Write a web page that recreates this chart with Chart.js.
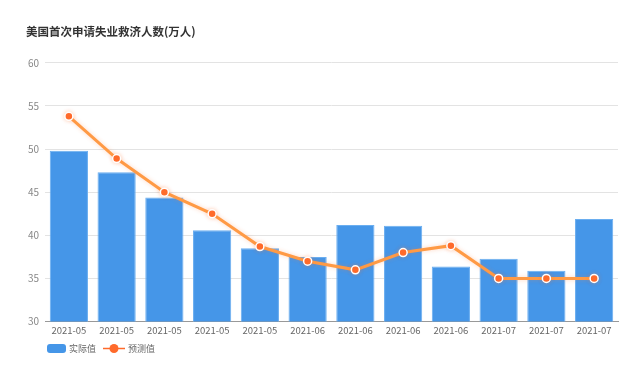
<!DOCTYPE html>
<html>
<head>
<meta charset="utf-8">
<script src="https://cdn.jsdelivr.net/npm/chart.js@4/dist/chart.umd.min.js"></script>
<style>
  html, body { margin: 0; padding: 0; background: #fff; }
  #wrap { width: 640px; height: 369px; }
</style>
</head>
<body>
<div id="wrap"><canvas id="chart" width="640" height="369"></canvas></div>
<script>
// data
const labels = ['2021-05', '2021-05', '2021-05', '2021-05', '2021-05', '2021-06',
                '2021-06', '2021-06', '2021-06', '2021-07', '2021-07', '2021-07'];
const actual = [49.8, 47.3, 44.4, 40.6, 38.5, 37.5, 41.2, 41.1, 36.4, 37.3, 35.9, 41.9];
const forecast = [53.8, 48.9, 45.0, 42.5, 38.7, 37.0, 36.0, 38.0, 38.8, 35.0, 35.0, 35.0];

const barColor = '#4596e8';
const lineColor = '#ff9a45';
const dotColor = '#ff6a2b';
const FONT = "'Noto Sans CJK SC', 'Noto Sans', sans-serif";

// faint orange glow on the forecast line
const lineGlow = {
    id: 'lineGlow',
    beforeDatasetDraw(chart, args) {
        if (args.index !== 0) return;
        const ctx = chart.ctx;
        ctx.save();
        ctx.shadowColor = 'rgba(255, 120, 50, 0.3)';
        ctx.shadowBlur = 4;
    },
    afterDatasetDraw(chart, args) {
        if (args.index !== 0) return;
        chart.ctx.restore();
    }
};

// legend drawn by hand under the axis (bar box, then line + dot)
const bottomLegend = {
    id: 'bottomLegend',
    afterDraw(chart) {
        const ctx = chart.ctx;
        const y = 348.5;
        ctx.save();
        ctx.font = '9px ' + FONT;
        ctx.textBaseline = 'middle';

        ctx.beginPath();
        ctx.fillStyle = barColor;
        ctx.roundRect(47, y - 4.5, 19, 9, 3);
        ctx.fill();
        ctx.fillStyle = '#666';
        ctx.fillText(chart.data.datasets[1].label, 69, y);

        ctx.strokeStyle = dotColor;
        ctx.lineWidth = 1.5;
        ctx.beginPath();
        ctx.moveTo(103, y); ctx.lineTo(125, y);
        ctx.stroke();
        ctx.fillStyle = dotColor;
        ctx.beginPath();
        ctx.arc(114, y, 4.5, 0, Math.PI * 2);
        ctx.fill();
        ctx.fillStyle = '#666';
        ctx.fillText(chart.data.datasets[0].label, 128, y);
        ctx.restore();
    }
};

new Chart(document.getElementById('chart'), {
    data: {
        labels: labels,
        datasets: [
            {
                type: 'line',
                label: '预测值',
                data: forecast,
                borderColor: lineColor,
                borderWidth: 3,
                tension: 0,
                pointRadius: 4,
                pointBackgroundColor: dotColor,
                pointBorderColor: '#fff',
                pointBorderWidth: 1.5,
                order: 0
            },
            {
                type: 'bar',
                label: '实际值',
                data: actual,
                backgroundColor: barColor,
                borderColor: '#6aaef0',
                borderWidth: 1,
                categoryPercentage: 1,
                barPercentage: 0.8,
                order: 1
            }
        ]
    },
    options: {
        responsive: false,
        animation: false,
        layout: { padding: { left: 26, right: 22, top: 0, bottom: 30 } },
        plugins: {
            tooltip: { enabled: false },
            legend: { display: false },
            title: {
                display: true,
                text: '美国首次申请失业救济人数(万人)',
                align: 'start',
                color: '#333',
                font: { family: FONT, size: 11.5, weight: 'bold' },
                padding: { top: 25, bottom: 24 }
            }
        },
        scales: {
            x: {
                grid: { display: false, drawTicks: false },
                border: { color: '#999', width: 1 },
                ticks: { color: '#666', font: { family: FONT, size: 9.5 }, padding: 3, maxRotation: 0, autoSkip: false }
            },
            y: {
                min: 30,
                max: 60,
                afterFit: axis => { axis.width = 19; },
                grid: { color: '#e3e3e3', drawTicks: false },
                border: { display: false },
                ticks: { stepSize: 5, color: '#888', font: { family: FONT, size: 10 }, padding: 6 }
            }
        }
    },
    plugins: [lineGlow, bottomLegend]
});
</script>
</body>
</html>
